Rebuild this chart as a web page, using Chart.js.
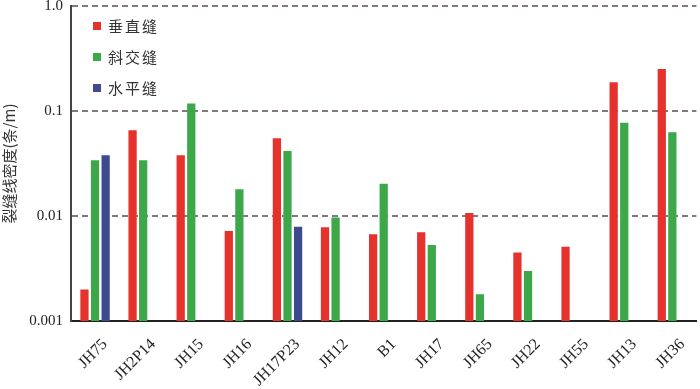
<!DOCTYPE html>
<html>
<head>
<meta charset="utf-8">
<script src="https://cdn.jsdelivr.net/npm/chart.js@4"></script>
<style>
  html, body { margin: 0; padding: 0; background: #fff; }
  #wrap { width: 700px; height: 389px; }
</style>
</head>
<body>
<div id="wrap"><canvas id="grafico"></canvas></div>
<script>
// dados (escala log)
const categorias = ['JH75', 'JH2P14', 'JH15', 'JH16', 'JH17P23', 'JH12', 'B1', 'JH17', 'JH65', 'JH22', 'JH55', 'JH13', 'JH36'];
const vertical = [0.0020, 0.0655, 0.0379, 0.0072, 0.055, 0.0078, 0.0067, 0.0070, 0.0107, 0.0045, 0.0051, 0.1875, 0.251];
const obliqua = [0.0339, 0.0339, 0.118, 0.0180, 0.0416, 0.0097, 0.0203, 0.0053, 0.0018, 0.0030, null, 0.0774, 0.0626];
const horizontal = [0.0379, null, null, null, 0.0079, null, null, null, null, null, null, null, null];
const yTicks = [0.001, 0.01, 0.1, 1];

const corVermelho = '#e5322d';
const corVerde = '#3da84a';
const corAzul = '#3d4b8e';
const corGrade = '#857a7a';
const fonteSerif = '"Liberation Serif", "DejaVu Serif", serif';
const fonteCJK = '"Noto Sans CJK SC", sans-serif';

// legenda desenhada dentro da área do gráfico
const legendaInterna = {
    id: 'legendaInterna',
    afterDraw(chart) {
        const ctx = chart.ctx;
        const area = chart.chartArea;
        ctx.save();
        ctx.font = '15px ' + fonteCJK;
        ctx.letterSpacing = '2px';
        ctx.textBaseline = 'middle';
        chart.data.datasets.forEach((ds, i) => {
            const y = area.top + 20 + i * 31;
            ctx.fillStyle = ds.backgroundColor;
            ctx.fillRect(area.left + 22, y - 4, 8, 8);
            ctx.fillStyle = '#333';
            ctx.fillText(ds.label, area.left + 37, y);
        });
        ctx.restore();
    }
};

const barra = { categoryPercentage: 0.66, barPercentage: 0.78, borderWidth: 0 };

const ctx = document.getElementById('grafico').getContext('2d');
const grafico = new Chart(ctx, {
    type: 'bar',
    data: {
        labels: categorias,
        datasets: [
            { label: '垂直缝', data: vertical, backgroundColor: corVermelho, ...barra },
            { label: '斜交缝', data: obliqua, backgroundColor: corVerde, ...barra },
            { label: '水平缝', data: horizontal, backgroundColor: corAzul, ...barra }
        ]
    },
    plugins: [legendaInterna],
    options: {
        responsive: true,
        maintainAspectRatio: false,
        animation: false,
        layout: { padding: { top: 6, right: 2, left: 0, bottom: 0 } },
        plugins: {
            legend: { display: false },
            tooltip: { enabled: false }
        },
        scales: {
            x: {
                grid: { display: false, drawTicks: false },
                border: { color: '#222', width: 2 },
                ticks: {
                    maxRotation: 45,
                    minRotation: 45,
                    padding: 14,
                    labelOffset: 10,
                    color: '#222',
                    font: { family: fonteSerif, size: 16 }
                },
                afterFit(scale) { scale.height = 68; }
            },
            y: {
                type: 'logarithmic',
                min: 0.001,
                max: 1,
                afterBuildTicks(scale) {
                    scale.ticks = yTicks.map(v => ({ value: v }));
                },
                afterFit(scale) {
                    scale.width = 71;
                    scale.paddingTop = 0;
                    scale.paddingBottom = 0;
                },
                grid: {
                    drawTicks: false,
                    color: c => (c.tick && c.tick.value > 0.001) ? corGrade : 'rgba(0,0,0,0)',
                    lineWidth: 2
                },
                border: { color: '#444', width: 2, dash: [6, 4] },
                ticks: {
                    padding: 8,
                    color: '#222',
                    font: { family: fonteSerif, size: 15 },
                    callback: v => v === 1 ? '1.0' : String(v)
                },
                title: {
                    display: true,
                    text: '裂缝线密度(条/m)',
                    color: '#333',
                    padding: { top: 0, bottom: 0 },
                    font: { family: fonteCJK, size: 15 }
                }
            }
        }
    }
});
</script>
</body>
</html>
